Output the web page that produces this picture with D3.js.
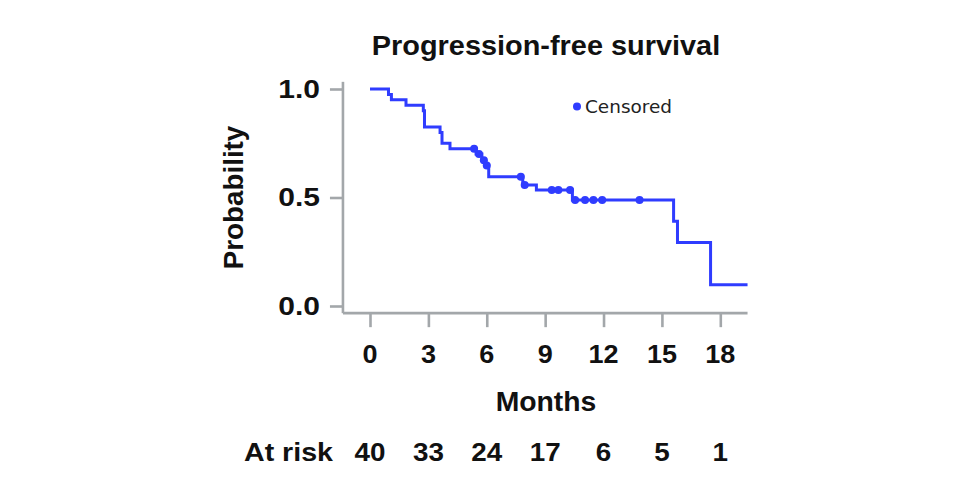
<!DOCTYPE html>
<html><head><meta charset="utf-8">
<script src="https://cdn.jsdelivr.net/npm/d3@7"></script>
<style>body{margin:0;background:#fff}svg{display:block}</style>
</head><body>
<svg id="c" width="961" height="491"></svg>
<script>
// Kaplan-Meier step data (months, survival probability)
const stepTimes = [0, 0.95, 1.1, 1.85, 2.74, 2.8, 3.6, 3.7, 4.11, 5.45, 5.75, 5.95, 6.1, 7.85, 8.55, 10.4, 15.6, 15.8, 17.5];
const stepSurv  = [1.0, 0.975, 0.95, 0.925, 0.9, 0.825, 0.8, 0.75, 0.725, 0.70, 0.672, 0.648, 0.596, 0.558, 0.535, 0.488, 0.39, 0.293, 0.098];
const endTime = 19.4;
const censorTimes = [5.35, 5.6, 5.85, 6.0, 7.75, 7.95, 9.34, 9.68, 10.28, 10.54, 11.05, 11.48, 11.93, 13.85];
const censorSurv  = [0.725, 0.70, 0.672, 0.648, 0.596, 0.558, 0.535, 0.535, 0.535, 0.488, 0.488, 0.488, 0.488, 0.488];
const xTicks = [0, 3, 6, 9, 12, 15, 18];
const yTicks = [0, 0.5, 1.0];
const atRisk = [40, 33, 24, 17, 6, 5, 1];

const svg = d3.select("#c");
const x = d3.scaleLinear().domain([0, 18]).range([370, 720.3]);
const y = d3.scaleLinear().domain([0, 1]).range([306, 89]);
const axisColor = "#a3a7aa";
const blue = "#2f3cff";
const boldFont = "'Liberation Sans', Arial, sans-serif";

// stretched bold text helper
function btext(px, py, str, size, anchor, sx, rot) {
  const g = svg.append("g").attr("transform", `translate(${px},${py})` + (rot ? ` rotate(${rot})` : "") + ` scale(${sx},1)`);
  g.append("text").attr("text-anchor", anchor)
    .attr("font-family", boldFont).attr("font-weight", "bold").attr("font-size", size).attr("fill", "#111")
    .text(str);
  return g;
}

// axes
const yAxisX = x(-1.39);
const xAxisY = y(-0.033);
const yAx = svg.append("g").attr("transform", `translate(${yAxisX},0)`)
  .call(d3.axisLeft(y).tickValues(yTicks).tickFormat("").tickSize(13).tickSizeOuter(0));
yAx.select(".domain").remove();
yAx.append("line").attr("x1",0).attr("x2",0).attr("y1", y(1.033)).attr("y2", xAxisY);
const xAx = svg.append("g").attr("transform", `translate(0,${xAxisY})`)
  .call(d3.axisBottom(x).tickValues(xTicks).tickFormat("").tickSize(14).tickSizeOuter(0));
xAx.select(".domain").remove();
xAx.append("line").attr("x1", yAxisX).attr("x2", x(endTime)).attr("y1",0).attr("y2",0);
[yAx, xAx].forEach(g => g.selectAll("line").attr("stroke", axisColor).attr("stroke-width", 2.6));

// tick labels
yTicks.forEach(v => btext(yAxisX - 23, y(v) + 8.8, d3.format(".1f")(v), 25, "end", 1.2));
xTicks.forEach(v => btext(x(v), 363, String(v), 25, "middle", 1.08));

// curve
const pts = stepTimes.map((t,i)=>[t, stepSurv[i]]);
pts.push([endTime, stepSurv[stepSurv.length-1]]);
svg.append("path").datum(pts)
  .attr("d", d3.line().x(d=>x(d[0])).y(d=>y(d[1])).curve(d3.curveStepAfter))
  .attr("fill","none").attr("stroke", blue).attr("stroke-width", 3);

// censor marks
svg.selectAll("circle.cens").data(censorTimes.map((t,i)=>[t, censorSurv[i]])).enter()
  .append("circle").attr("class","cens")
  .attr("cx", d=>x(d[0])).attr("cy", d=>y(d[1])).attr("r", 4).attr("fill", blue);

// legend
svg.append("circle").attr("cx", 577).attr("cy", 106.5).attr("r", 4).attr("fill", blue);
svg.append("text").attr("x", 585).attr("y", 112.5).text("Censored")
  .attr("font-family","'DejaVu Sans', sans-serif").attr("font-size", 17).attr("fill","#222")
  .attr("textLength", 87).attr("lengthAdjust", "spacingAndGlyphs");

// title and labels
btext(546, 55, "Progression-free survival", 27, "middle", 1.07);
btext(546, 411, "Months", 27, "middle", 1.05);
btext(243, y(0.5), "Probability", 27, "middle", 1.03, -90);

// at risk row
btext(333, 461, "At risk", 26, "end", 1.1);
atRisk.forEach((d,i) => btext(x(xTicks[i]), 461, String(d), 26, "middle", 1.07));
</script>
</body></html>
